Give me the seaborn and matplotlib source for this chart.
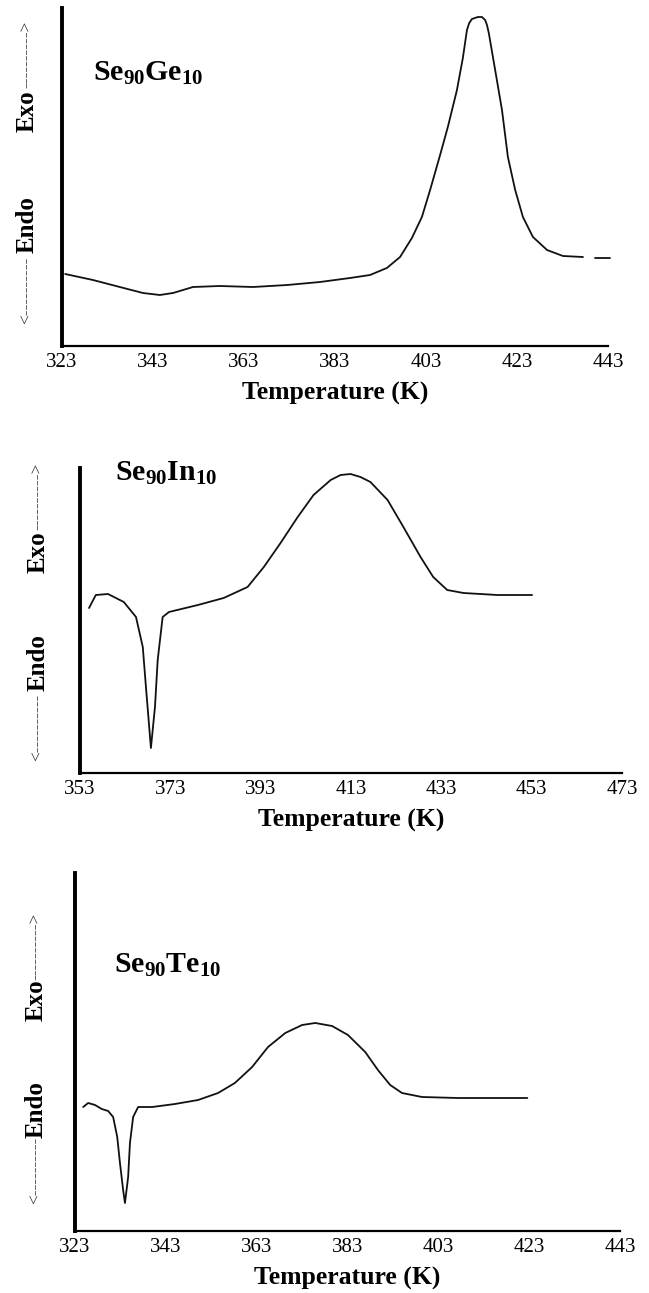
import pandas as pd
import numpy as np
import matplotlib.pyplot as plt
import seaborn as sns

# -----------------------------
# DATA (arbitrary heat flow units)
# -----------------------------
ge_temp = [323.7, 329.8, 335.7, 340.8, 344.5, 347.4, 351.8, 357.7, 365.0, 372.5,
           379.7, 386.3, 390.7, 394.4, 397.3, 399.9, 402.1, 403.9, 406.1, 407.8,
           409.8, 411.1, 412.0, 412.5, 413.1, 414.4, 415.3, 416.0, 416.4, 416.8,
           418.2, 419.7, 421.0, 422.6, 424.3, 426.5, 429.6, 433.1, 437.5, 440.1,
           443.5]
ge_flow = [72, 66, 59, 53, 51, 53, 59, 60, 59, 61,
           64, 68, 71, 78, 89, 108, 129, 156, 191, 219,
           256, 288, 316, 323, 327, 329, 329, 326, 321, 313,
           276, 236, 189, 156, 129, 109, 96, 90, 89, 88,
           88]
ge_seg = [0] * 39 + [1, 1]

in_temp = [355.0, 356.5, 359.2, 362.7, 365.4, 366.9, 367.6, 368.7, 369.6, 370.2,
           371.3, 372.7, 379.1, 384.8, 390.1, 393.7, 397.4, 401.2, 404.7, 408.5,
           410.7, 412.9, 415.1, 417.3, 421.1, 424.6, 428.4, 431.2, 434.3, 437.9,
           445.4, 453.1]
in_flow = [165, 178, 179, 171, 156, 126, 86, 25, 66, 113,
           156, 161, 168, 175, 186, 206, 230, 256, 278, 293,
           298, 299, 296, 291, 273, 246, 216, 196, 183, 180,
           178, 178]

te_temp = [324.8, 325.9, 327.4, 328.9, 330.3, 331.4, 332.3, 332.9, 333.6, 334.0,
           334.7, 335.1, 335.8, 336.9, 340.0, 345.0, 350.1, 354.5, 358.2, 362.0,
           365.5, 369.3, 373.0, 375.9, 379.6, 383.1, 386.9, 389.7, 392.4, 395.0,
           399.4, 407.4, 422.6]
te_flow = [124, 128, 126, 122, 120, 114, 94, 68, 41, 28,
           54, 88, 114, 124, 124, 127, 131, 138, 148, 164,
           184, 198, 206, 208, 205, 196, 179, 161, 146, 138,
           134, 133, 133]

ge_ticks = [323, 343, 363, 383, 403, 423, 443]
in_ticks = [353, 373, 393, 413, 433, 453, 473]
te_ticks = [323, 343, 363, 383, 403, 423, 443]

titles = [r"$\mathbf{Se_{90}Ge_{10}}$", r"$\mathbf{Se_{90}In_{10}}$", r"$\mathbf{Se_{90}Te_{10}}$"]

# -----------------------------
# STYLE
# -----------------------------
sns.set_style("white")
plt.rcParams["font.family"] = ["Liberation Serif", "DejaVu Serif"]
plt.rcParams["mathtext.fontset"] = "custom"
plt.rcParams["mathtext.rm"] = "Liberation Serif"
plt.rcParams["mathtext.bf"] = "Liberation Serif:bold"
plt.rcParams["text.color"] = "black"
plt.rcParams["axes.labelcolor"] = "black"
plt.rcParams["xtick.color"] = "black"

W, H = 649, 1293
fig = plt.figure(figsize=(W / 100, H / 100), dpi=100)


def px_axes(left, right, top, bottom):
    return fig.add_axes([left / W, 1 - bottom / H, (right - left) / W, (bottom - top) / H])


def fx(x):
    return x / W


def fy(y):
    return 1 - y / H


# panel boxes in pixels: left, right, top, bottom
boxes = [(62, 608, 8, 346), (80, 622, 468, 773), (75, 620, 873, 1231)]
panels = [
    (pd.DataFrame({"T": ge_temp, "q": ge_flow, "seg": ge_seg}), ge_ticks),
    (pd.DataFrame({"T": in_temp, "q": in_flow, "seg": 0}), in_ticks),
    (pd.DataFrame({"T": te_temp, "q": te_flow, "seg": 0}), te_ticks),
]
# title position (left x, baseline y) and y-label layout (x, <-- centre, Endo, Exo, --> centre)
title_pos = [(93, 81), (115, 481), (114, 973)]
ylab_pos = [(27, 290, 225, 111, 54), (38, 727, 663, 552, 496), (36, 1170, 1110, 1000, 946)]

for i, ((df, ticks), box) in enumerate(zip(panels, boxes)):
    left, right, top, bottom = box
    ax = px_axes(left, right, top, bottom)
    sns.lineplot(data=df, x="T", y="q", units="seg", estimator=None,
                 color="#111111", lw=1.3, ax=ax, clip_on=False)
    for ln in ax.lines:
        ln.set_solid_joinstyle("round")
    ax.set_xlim(ticks[0], ticks[-1])
    ax.set_ylim(0, bottom - top)
    ax.set_xticks(ticks)
    ax.set_xticklabels([str(t) for t in ticks], fontsize=15)
    ax.set_yticks([])
    ax.set_ylabel("")
    ax.set_xlabel("Temperature (K)", fontsize=18.5, fontweight="bold", labelpad=7)
    ax.tick_params(axis="x", direction="in", length=7, width=1.6, pad=5)
    for s in ["top", "right"]:
        ax.spines[s].set_visible(False)
    ax.spines["left"].set_linewidth(2.8)
    ax.spines["bottom"].set_linewidth(1.6)
    ax.spines["left"].set_color("black")
    ax.spines["bottom"].set_color("black")

    tx, ty = title_pos[i]
    fig.text(fx(tx), fy(ty), titles[i], fontsize=21.5, ha="left", va="baseline")

    lx, y_lo, y_endo, y_exo, y_hi = ylab_pos[i]
    fig.text(fx(lx), fy(y_lo), "<" + "-" * 10, rotation=90, fontsize=12.5, color="#333333",
             ha="center", va="center")
    fig.text(fx(lx), fy(y_endo), "Endo", rotation=90, fontsize=18, fontweight="bold",
             ha="center", va="center")
    fig.text(fx(lx), fy(y_exo), "Exo", rotation=90, fontsize=18, fontweight="bold",
             ha="center", va="center")
    fig.text(fx(lx), fy(y_hi), "-" * 10 + ">", rotation=90, fontsize=12.5, color="#333333",
             ha="center", va="center")

fig.savefig("out.png", dpi=100, facecolor="white")
